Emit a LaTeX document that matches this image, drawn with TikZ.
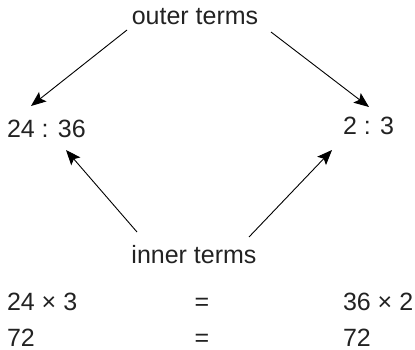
\documentclass[tikz,border=0pt]{standalone}
\usepackage{fontspec}
\setmainfont{Liberation Sans}
\usetikzlibrary{arrows.meta,calc}
\definecolor{txt}{HTML}{222222}
\begin{document}
\begin{tikzpicture}[x=1pt,y=-1pt,
  lbl/.style={inner sep=0pt,outer sep=0pt,text=txt,font=\fontsize{25}{30}\selectfont},
  conn/.style={line width=0.9pt,-{Stealth[length=15pt,width=12pt,inset=3pt]}}]
\useasboundingbox (0,0) rectangle (415,350);
\node[lbl,anchor=base] (outer) at (195,25) {outer terms};
\node[lbl,anchor=base west] (left) at (7,138) {24 : 36};
\node[lbl,anchor=base west] (right) at (343,135) {2 : 3};
\node[lbl,anchor=base] (inner) at (194,263) {inner terms};
\node[lbl,anchor=base west] (a1) at (7,310) {24 × 3};
\node[lbl,anchor=base] (e1) at (202,310) {=};
\node[lbl,anchor=base west] (b1) at (343,310) {36 × 2};
\node[lbl,anchor=base west] (a2) at (7,346) {72};
\node[lbl,anchor=base] (e2) at (202,346) {=};
\node[lbl,anchor=base west] (b2) at (343,346) {72};
\draw[conn] ($(outer.base)+(-68,5)$) -- ($(left.base west)+(24,-32)$);
\draw[conn] ($(outer.base)+(76,7)$) -- ($(right.base west)+(26,-28)$);
\draw[conn] ($(inner.base)+(-57,-31)$) -- ($(left.base west)+(59,12)$);
\draw[conn] ($(inner.base)+(55,-26)$) -- ($(right.base west)+(-11,15)$);
\end{tikzpicture}
\end{document}
